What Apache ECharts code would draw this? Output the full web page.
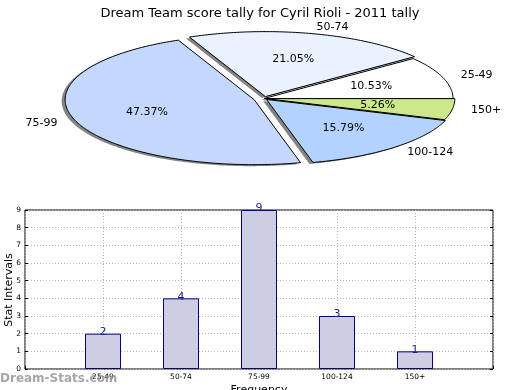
<!DOCTYPE html>
<html><head><meta charset="utf-8">
<script src="https://cdn.jsdelivr.net/npm/echarts@6/dist/echarts.min.js"></script>
<style>html,body{margin:0;padding:0;background:#fff}#c{width:520px;height:390px}</style>
</head><body><div id="c"></div>
<script>
var titleText = 'Dream Team score tally for Cyril Rioli - 2011 tally';
var xAxisName = 'Frequency';
var yAxisName = 'Stat Intervals';
var categories = ['25-49', '50-74', '75-99', '100-124', '150+'];
var counts = [2, 4, 9, 3, 1];
var pieColors = ['#ffffff', '#eaf1ff', '#c4d8fe', '#b3d3fe', '#cde88a'];
var explode = [0.0, 0.03, 0.055, 0.02, 0.01];
var yTicks = [0, 1, 2, 3, 4, 5, 6, 7, 8, 9];

var FONT = 'DejaVu Sans';
var total = counts.reduce(function (a, b) { return a + b; }, 0);
var PIE = { cx: 264, cy: 98.5, rx: 189, ry: 65 };

function renderSlice(params, api) {
  var i = params.dataIndex;
  var start = 0;
  for (var k = 0; k < i; k++) start += counts[k];
  var a0 = start / total * 360, a1 = (start + counts[i]) / total * 360;
  var mid = (a0 + a1) / 2 * Math.PI / 180;
  var e = explode[i];
  var ox = PIE.cx + e * PIE.rx * Math.cos(mid);
  var oy = PIE.cy - e * PIE.ry * Math.sin(mid);
  function pts(dx, dy) {
    var p = [[ox + dx, oy + dy]];
    var n = Math.max(4, Math.ceil((a1 - a0) / 1));
    for (var j = 0; j <= n; j++) {
      var t = (a0 + (a1 - a0) * j / n) * Math.PI / 180;
      p.push([ox + dx + PIE.rx * Math.cos(t), oy + dy - PIE.ry * Math.sin(t)]);
    }
    return p;
  }
  var pct = (counts[i] / total * 100).toFixed(2) + '%';
  var lx = ox + 1.1 * PIE.rx * Math.cos(mid);
  var ly = oy - 1.1 * PIE.ry * Math.sin(mid);
  var px = ox + 0.6 * PIE.rx * Math.cos(mid);
  var py = oy - 0.6 * PIE.ry * Math.sin(mid);
  return {
    type: 'group',
    children: [
      { type: 'polygon', z2: 1, shape: { points: pts(-3.5, 1.5) },
        style: { fill: 'rgba(110,110,110,0.85)', stroke: null } },
      { type: 'polygon', z2: 10, shape: { points: pts(0, 0) },
        style: { fill: pieColors[i], stroke: '#000', lineWidth: 1, lineJoin: 'miter' } },
      { type: 'text', z2: 20, style: { x: px, y: py, text: pct, fill: '#000',
        font: '11px "' + FONT + '"', align: 'center', verticalAlign: 'middle' } },
      { type: 'text', z2: 20, style: { x: lx, y: ly, text: categories[i], fill: '#000',
        font: '11px "' + FONT + '"', align: Math.cos(mid) > 0 ? 'left' : 'right', verticalAlign: 'middle' } }
    ]
  };
}

var xData = [''].concat(categories).concat(['']);
var barData = ['-'].concat(counts).concat(['-']);

var chart = echarts.init(document.getElementById('c'), null, { renderer: 'canvas' });
chart.setOption({
  animation: false,
  backgroundColor: '#fff',
  textStyle: { fontFamily: FONT },
  title: { text: titleText, left: 'center', top: 2,
    textStyle: { fontFamily: FONT, fontSize: 13, fontWeight: 'normal', color: '#000' } },
  graphic: [
    { type: 'text', left: 0, top: 373, z: 100,
      style: { text: 'Dream-Stats.com', fill: 'rgba(150,150,150,0.85)', font: 'bold 12px "' + FONT + '"' } },
    { type: 'text', x: 9, y: 290, rotation: Math.PI / 2, z: 50,
      style: { text: yAxisName, fill: '#000', font: '11px "' + FONT + '"', align: 'center', verticalAlign: 'middle' } },
    { type: 'text', x: 259, y: 390, z: 50,
      style: { text: xAxisName, fill: '#000', font: '11px "' + FONT + '"', align: 'center', verticalAlign: 'middle' } }
  ],
  grid: { left: 25, right: 27, top: 210, bottom: 21, show: true, borderColor: '#000', borderWidth: 1,
    containLabel: false, outerBoundsMode: 'none' },
  xAxis: {
    type: 'category', data: xData, boundaryGap: false,
    axisLine: { show: false },
    axisTick: { show: true, inside: true, length: 3, lineStyle: { color: '#000' } },
    axisLabel: { fontSize: 7.5, color: '#000', margin: 4, fontFamily: FONT },
    splitLine: { show: true, lineStyle: { color: '#b8b8b8', type: [1, 2] } }
  },
  yAxis: [{
    type: 'value', min: 0, max: 9, interval: 1,
    axisLine: { show: false },
    axisTick: { show: true, inside: true, length: 3, lineStyle: { color: '#000' } },
    axisLabel: { fontSize: 7.5, color: '#000', margin: 4, fontFamily: FONT,
      formatter: function (v) { return yTicks.indexOf(v) >= 0 ? String(v) : ''; } },
    splitLine: { show: true, lineStyle: { color: '#b8b8b8', type: [1, 2] } }
  }, {
    type: 'value', min: 0, max: 9, interval: 1, position: 'right',
    axisLine: { show: false },
    axisTick: { show: true, inside: true, length: 3, lineStyle: { color: '#000' } },
    axisLabel: { show: false }, splitLine: { show: false }
  }],
  series: [
    { type: 'bar', data: barData, barWidth: 36, yAxisIndex: 0,
      itemStyle: { color: '#cdcde3', borderColor: '#000080', borderWidth: 1 },
      label: { show: true, position: 'top', distance: -4, color: '#1a1a99',
        fontSize: 11, fontFamily: FONT } },
    { type: 'custom', coordinateSystem: 'none', renderItem: renderSlice,
      data: counts.map(function (v, i) { return [i, v]; }), z: 5 }
  ]
});
</script></body></html>
